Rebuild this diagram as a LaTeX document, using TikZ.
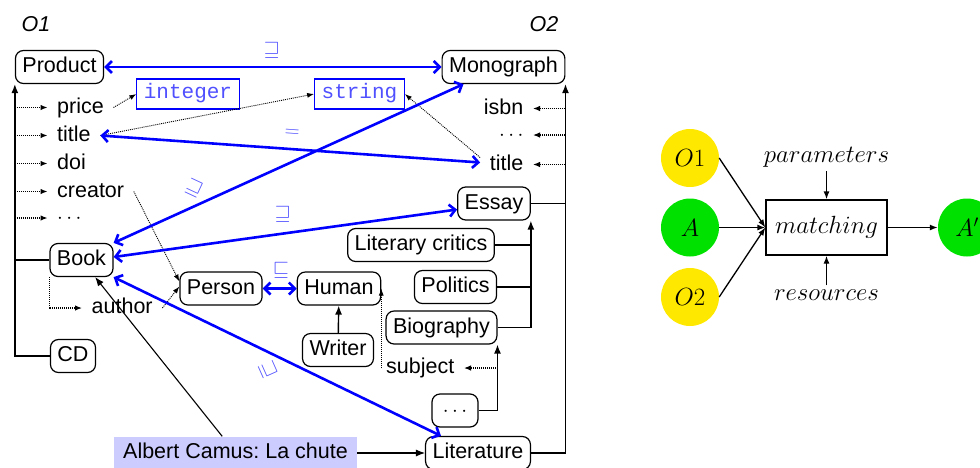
\documentclass[tikz,border=0pt]{standalone}
\usepackage{fontspec}
\setmainfont{Liberation Sans}
\setmonofont{Liberation Mono}
\usetikzlibrary{arrows.meta}
\definecolor{rel}{RGB}{0,0,255}
\definecolor{reltext}{RGB}{80,80,255}
\definecolor{lavender}{RGB}{204,204,255}
\definecolor{sunyellow}{RGB}{255,232,0}
\definecolor{brightgreen}{RGB}{0,225,0}
\frenchspacing
\begin{document}
\begin{tikzpicture}[x=1pt,y=-1pt,
  font=\fontsize{21.5}{26}\selectfont,
  cls/.style={draw, rounded corners=8pt, line width=1.2pt, minimum height=33pt,
    inner xsep=7pt, inner ysep=0pt, text height=15.5pt, text depth=4.5pt},
  prop/.style={inner xsep=9.5pt, inner ysep=0pt, text height=15.5pt, text depth=4.5pt},
  dtype/.style={draw=rel, line width=1.1pt, text=reltext, minimum height=30pt,
    inner xsep=7pt, inner ysep=0pt, font=\fontsize{21}{25}\ttfamily,
    text height=13pt, text depth=4pt},
  isa/.style={line width=1.4pt, -{Latex[length=9pt,width=7pt]}},
  joint/.style={line width=1.4pt},
  attr/.style={line width=1.2pt, dash pattern=on 1pt off 1pt, -{Latex[length=7pt,width=5.5pt]}},
  ref/.style={line width=0.9pt, dash pattern=on 1pt off 1pt, -{Latex[length=7pt,width=5pt]}},
  corr/.style={draw=rel, line width=2.6pt,
    {Straight Barb[length=6pt,width=12pt]}-{Straight Barb[length=6pt,width=12pt]}},
  relsym/.style={text=reltext, font=\fontsize{20}{24}\selectfont, inner sep=1pt},
  onto/.style={font=\fontsize{21.5}{26}\selectfont\itshape},
  ball/.style={circle, minimum size=58pt, inner sep=0pt, font=\fontsize{24}{28}\selectfont},
  flow/.style={line width=1.3pt, -{Latex[length=8pt,width=6pt]}},
]
\useasboundingbox (0,0) rectangle (980,467);

% ---------------- ontology O1 ----------------
\node[onto] (o1) at (36,24) {O1};
\node[cls] (product) at (59.5,67) {Product};
\node[prop, anchor=west] (price)   at (47.5,107.5) {price};
\node[prop, anchor=west] (title1)  at (47.5,135.5) {title};
\node[prop, anchor=west] (doi)     at (47.5,163.5) {doi};
\node[prop, anchor=west] (creator) at (47.5,191.5) {creator};
\node[prop, anchor=west] (more1)   at (47.5,218) {$\cdots$};
\node[cls] (book) at (81.5,260) {Book};
\node[cls] (cd) at (73,356) {CD};
\node[prop, anchor=west] (author) at (82,308) {author};
\node[cls] (person) at (221,288.5) {Person};

% ---------------- ontology O2 ----------------
\node[onto] (o2) at (544,24) {O2};
\node[cls] (monograph) at (503.5,67) {Monograph};
\node[prop, anchor=east] (isbn)   at (533,108.5) {isbn};
\node[prop, anchor=east] (more2)  at (533,135) {$\cdots$};
\node[prop, anchor=east] (title2) at (533,164.5) {title};
\node[cls] (essay) at (494,203.5) {Essay};
\node[cls] (critics) at (421,245) {Literary critics};
\node[cls] (politics) at (455.5,287) {Politics};
\node[cls] (biography) at (441.5,327.5) {Biography};
\node[prop, anchor=east] (subject) at (464,368) {subject};
\node[cls, minimum width=46pt] (etc) at (455,410.5) {$\cdots$};
\node[cls] (literature) at (478,453) {Literature};
\node[cls] (human) at (339,288.5) {Human};
\node[cls] (writer) at (338,350) {Writer};

% datatypes and instance
\node[dtype] (integer) at (188,94) {integer};
\node[dtype] (string) at (359.5,94) {string};
\node[fill=lavender, minimum height=33pt, inner xsep=9pt, inner ysep=0pt,
  text height=15.5pt, text depth=4.5pt] (camus) at (235.5,453) {Albert Camus: La chute};

% ---------------- O1 hierarchy and properties ----------------
\draw[isa] (cd.west) -| (product.south west);
\draw[joint] (book.west) -- (book.west -| product.west);
\foreach \p in {price,title1,doi,creator,more1}
  \draw[attr] (\p.west -| product.west) -- (\p.west);
\draw[attr] (book.south west) |- (author.west);
\draw[ref] (price.east) -- (integer.west);
\draw[ref] (title1.east) -- (string.west);
\draw[ref] (creator.east) -- ([yshift=7pt]person.west);
\draw[ref] (author.east) -- ([yshift=2pt]person.west);

% ---------------- O2 hierarchy and properties ----------------
\draw[isa] (literature.east) -| (monograph.south east);
\draw[joint] (essay.east) -- (essay.east -| monograph.east);
\foreach \p in {isbn,more2,title2}
  \draw[attr] (\p.east -| monograph.east) -- (\p.east);
\draw[isa] (biography.east) -| (essay.south east);
\draw[joint] (critics.east) -- (critics.east -| essay.east);
\draw[joint] (politics.east) -- (politics.east -| essay.east);
\draw[isa] (etc.east) -| (biography.south east);
\draw[attr] (subject.east -| biography.east) -- (subject.east);
\draw[ref] (human.east |- subject.west) -- (human.east);
\draw[isa] (writer) -- (human);
\draw[ref] ([yshift=7pt]title2.west) -- (string.east);

% instance links
\draw[isa, line width=1.1pt] (camus) -- (book);
\draw[isa, line width=1.1pt] (camus) -- (literature);

% ---------------- correspondences ----------------
\draw[corr] (product.east) -- (monograph.west);
\node[relsym] at (272,50) {$\sqsupseteq$};
\draw[corr] (title1.east) -- ([yshift=2pt]title2.west);
\node[relsym, rotate=-4] at (292,133) {$=$};
\draw[corr] (book.north east) -- ([xshift=22pt]monograph.south west);
\node[relsym, rotate=-25] at (194,188) {$\sqsupseteq$};
\draw[corr] ([yshift=3pt]book.east) -- ([yshift=-6pt]essay.west);
\node[relsym] at (283,214) {$\sqsupseteq$};
\draw[corr] (person.east) -- (human.west);
\node[relsym] at (281,270) {$\sqsubseteq$};
\draw[corr] (book.south east) -- ([xshift=16pt]literature.north west);
\node[relsym, rotate=-66] at (268,370) {$\sqsupseteq$};

% ---------------- matching process ----------------
\node[ball, fill=sunyellow] (in1) at (690,158) {$O1$};
\node[ball, fill=brightgreen] (ain) at (690,227.5) {$A$};
\node[ball, fill=sunyellow] (in2) at (690,297) {$O2$};
\node[draw, line width=1.3pt, minimum width=121pt, minimum height=55pt, inner sep=0pt,
  font=\fontsize{24}{28}\selectfont] (match) at (826.5,227.5) {$matching$};
\node[ball, fill=brightgreen] (aout) at (967,227.5) {$A'$};
\node[font=\fontsize{24}{28}\selectfont, inner sep=1pt] (params) at (826.5,157) {$parameters$};
\node[font=\fontsize{24}{28}\selectfont, inner sep=1pt] (res) at (826.5,295) {$resources$};
\draw[flow] (in1.east) -- (match.west);
\draw[flow] (ain.east) -- (match.west);
\draw[flow] (in2.east) -- (match.west);
\draw[flow] (match.east) -- (aout.west);
\draw[flow, shorten <=3pt] (params.south) -- (match.north);
\draw[flow, shorten <=3pt] (res.north) -- (match.south);
\end{tikzpicture}
\end{document}
